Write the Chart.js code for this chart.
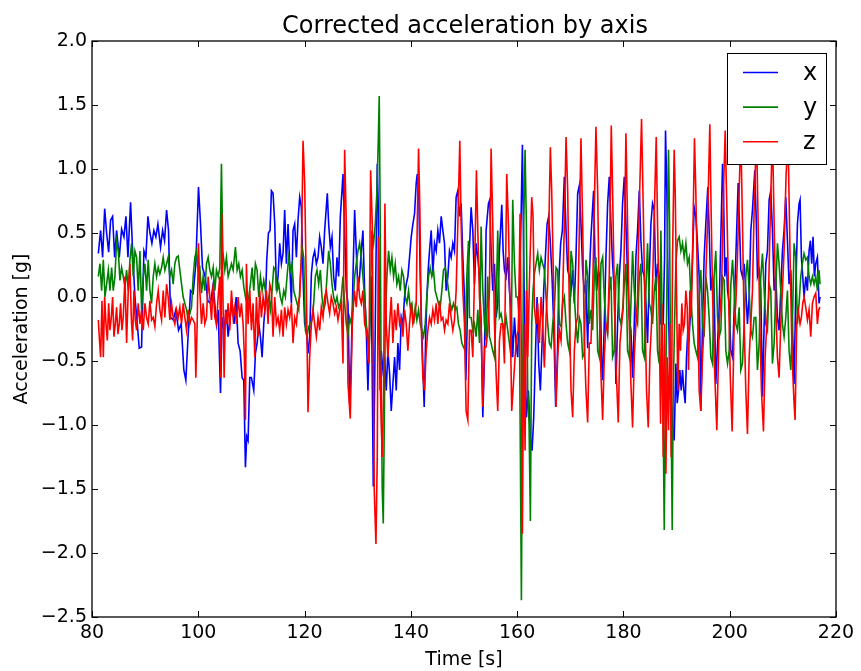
<!DOCTYPE html>
<html>
<head>
<meta charset="utf-8">
<title>Corrected acceleration by axis</title>
<script src="https://cdn.jsdelivr.net/npm/chart.js@4.4.1/dist/chart.umd.min.js"></script>
<style>
    html, body { margin: 0; padding: 0; background: #fff; }
    #wrap { width: 861px; height: 671px; }
</style>
</head>
<body>
<div id="wrap"><canvas id="accChart" width="861" height="671"></canvas></div>
<script>
// Trục tung / trục hoành
const xTickValues = [80, 100, 120, 140, 160, 180, 200, 220];
const yTickValues = [-2.5, -2.0, -1.5, -1.0, -0.5, 0.0, 0.5, 1.0, 1.5, 2.0];
const seriesNames = ['x', 'y', 'z'];

// Gia tốc trục x (s, g)
const timeX = [
    81.19,81.62,82.00,82.38,82.75,83.13,83.50,83.88,84.26,84.63,
    85.13,85.57,86.01,86.39,86.76,87.26,87.64,88.08,88.52,88.89,
    89.33,89.77,90.14,90.52,90.90,91.27,91.65,92.02,92.40,92.90,
    93.28,93.65,94.03,94.40,94.78,95.28,95.78,96.28,96.78,97.28,
    97.66,98.04,98.54,99.04,99.54,100.04,100.42,100.79,101.29,101.79,
    102.30,102.80,103.42,103.74,104.18,104.49,104.86,105.24,105.62,105.99,
    106.37,106.74,107.12,107.49,107.87,108.25,108.56,108.87,109.12,109.37,
    109.69,110.00,110.44,110.75,111.07,111.38,111.69,112.01,112.32,112.63,
    112.88,113.20,113.51,113.76,114.07,114.39,114.70,115.01,115.32,115.64,
    115.95,116.26,116.58,116.89,117.20,117.52,117.83,118.14,118.46,118.77,
    119.08,119.40,119.71,120.02,120.34,120.65,120.96,121.28,121.59,121.90,
    122.22,122.53,122.84,123.15,123.47,123.78,124.09,124.28,124.53,124.85,
    125.16,125.47,125.79,126.10,126.41,126.73,127.04,127.23,127.54,127.85,
    128.17,128.48,128.79,129.11,129.42,129.73,130.05,130.36,130.67,130.98,
    131.30,131.61,131.92,132.24,132.55,132.93,133.18,133.37,133.68,133.87,
    134.05,134.24,134.43,134.74,135.06,135.37,135.68,136.00,136.31,136.62,
    136.94,137.25,137.56,137.88,138.19,138.50,138.81,139.13,139.44,139.75,
    140.07,140.38,140.69,141.01,141.20,141.51,141.76,142.01,142.26,142.51,
    142.76,143.01,143.26,143.51,143.83,144.14,144.45,144.77,145.08,145.39,
    145.71,146.02,146.33,146.64,146.96,147.27,147.58,147.90,148.21,148.52,
    148.84,149.15,149.46,149.78,150.09,150.35,150.60,150.84,151.09,151.34,
    151.66,151.97,152.28,152.60,152.91,153.22,153.54,153.85,154.16,154.60,
    154.85,155.10,155.41,155.73,156.04,156.35,156.67,157.11,157.36,157.61,
    157.92,158.23,158.55,158.86,159.17,159.49,159.80,160.11,160.43,160.74,
    160.99,161.24,161.49,161.74,162.12,162.49,162.81,163.12,163.43,163.75,
    164.06,164.37,164.69,165.00,165.31,165.63,165.94,166.25,166.56,166.88,
    167.25,167.57,167.88,168.19,168.51,168.88,169.20,169.51,169.82,170.14,
    170.45,170.76,171.07,171.39,171.70,172.01,172.33,172.64,172.95,173.27,
    173.58,173.89,174.21,174.39,174.64,174.96,175.27,175.58,175.90,176.09,
    176.40,176.71,177.03,177.34,177.65,177.96,178.28,178.59,178.90,179.22,
    179.53,179.84,180.16,180.47,180.78,181.10,181.41,181.72,182.04,182.35,
    182.66,182.98,183.29,183.60,183.92,184.23,184.54,184.86,185.17,185.48,
    185.80,186.11,186.42,186.74,187.05,187.49,187.74,187.92,188.17,188.42,
    188.67,188.93,189.24,189.55,189.87,190.12,190.37,190.62,190.87,191.12,
    191.37,191.62,191.87,192.12,192.37,192.69,193.00,193.31,193.62,193.94,
    194.25,194.56,194.88,195.19,195.50,195.88,196.13,196.44,196.76,197.07,
    197.38,198.02,198.33,198.65,198.83,199.08,199.34,199.59,199.90,200.21,
    200.53,200.84,201.15,201.59,201.84,202.09,202.40,202.72,203.03,203.34,
    203.66,203.97,204.28,204.72,204.97,205.22,205.54,205.85,206.16,206.48,
    206.79,207.10,207.42,207.73,208.04,208.36,208.67,208.98,209.29,209.61,
    209.92,210.23,210.55,210.86,211.17,211.49,211.80,212.11,212.43,212.74,
    213.05,213.24,213.49,213.74,214.00,214.31,214.62,214.93,215.18,215.43,
    215.68,215.93,216.19,216.50,216.81,217.00
];
const accX = [
    0.34,0.52,0.31,0.69,0.50,0.35,0.60,0.63,0.31,0.52,
    0.31,0.53,0.47,0.63,0.31,0.74,0.36,0.00,-0.21,-0.40,
    -0.39,0.36,0.31,0.63,0.50,0.42,0.52,0.47,0.57,0.39,
    0.52,0.44,0.68,0.52,-0.16,-0.18,-0.10,-0.26,-0.21,-0.57,
    -0.65,-0.34,0.05,0.03,0.26,0.86,0.57,0.23,0.16,-0.03,
    -0.05,0.10,-0.21,-0.10,-0.75,-0.16,-0.26,-0.10,-0.31,-0.16,
    -0.05,-0.21,0.00,-0.36,-0.42,-0.63,-0.65,-1.33,-1.09,-1.12,
    -0.63,-0.63,-0.73,-0.44,-0.36,-0.21,-0.31,-0.47,-0.21,-0.05,
    0.29,0.50,0.52,0.83,0.81,0.57,0.05,0.16,0.42,0.26,
    0.34,0.68,0.26,0.57,0.26,-0.05,0.52,0.57,0.31,0.60,
    0.78,0.70,0.16,-0.21,-0.26,-0.44,-0.31,0.18,0.31,0.36,
    0.26,0.31,0.47,0.39,0.26,0.52,0.70,0.81,0.57,0.39,
    0.47,0.16,0.05,0.31,0.16,0.63,0.83,0.96,0.52,0.05,
    -0.05,-0.83,-0.47,0.16,0.68,0.36,0.05,0.16,0.36,0.52,
    0.05,-0.26,-0.73,-0.26,0.16,-1.48,-0.73,0.05,1.04,0.70,
    0.05,-0.73,-0.42,-0.57,-0.47,-0.73,-0.42,-0.60,-0.89,-0.68,
    -0.47,-0.73,-0.36,-0.57,-0.16,-0.21,0.00,0.10,0.16,0.31,
    0.47,0.57,0.65,0.89,0.96,0.76,0.16,-0.21,-0.55,-0.86,
    -0.36,0.00,0.21,0.36,0.52,0.18,0.42,0.36,0.52,0.42,
    0.63,0.52,0.42,0.05,0.16,0.36,0.31,0.42,0.36,0.78,
    0.83,0.63,0.73,0.31,0.00,-0.65,-0.20,0.26,0.44,0.70,
    0.52,0.10,0.42,0.31,0.16,-0.21,-0.94,-0.47,0.52,0.73,
    0.76,0.36,0.05,0.26,-0.16,-0.05,0.36,0.72,0.36,0.21,
    0.16,0.31,0.05,-0.10,-0.47,-0.16,-0.36,-0.47,0.05,0.63,
    1.19,0.31,-0.47,-0.94,-0.73,-1.09,-1.20,-0.94,-0.47,0.00,
    -0.52,-0.73,-0.36,0.05,0.31,0.57,0.63,0.42,0.16,-0.21,
    -0.86,-0.47,0.16,0.42,0.52,0.94,0.52,0.21,0.16,0.05,
    0.21,-0.05,0.31,0.81,0.87,0.57,0.21,0.05,0.10,-0.40,
    0.16,0.47,0.70,0.83,0.31,0.05,0.21,0.16,-0.52,-0.65,
    -0.21,0.31,0.73,0.94,0.57,0.26,0.05,-0.68,-0.21,0.16,
    0.36,0.73,0.94,0.57,0.16,-0.16,-0.26,-0.63,-0.21,0.31,
    0.52,0.83,0.44,0.21,0.16,-0.05,-0.36,0.16,0.57,0.73,
    0.68,0.05,0.26,0.16,-0.21,-0.21,0.31,1.30,0.83,0.05,
    -0.47,-0.73,-0.99,-1.12,-0.52,-0.83,-0.73,-0.57,-0.73,-0.57,
    -0.73,-0.83,-0.47,-0.26,-0.31,-0.05,0.31,0.70,0.63,0.42,
    0.16,-0.89,-0.21,0.31,0.57,0.86,0.52,0.05,0.16,0.05,
    -0.68,-0.08,0.47,1.04,0.83,0.16,0.31,0.05,-0.05,-0.42,
    -0.47,-0.10,0.31,0.89,0.57,0.21,0.16,0.26,0.05,-0.21,
    0.00,0.52,0.68,0.99,0.63,0.16,0.21,0.05,-0.78,-0.21,
    0.26,0.36,0.76,0.83,0.52,0.05,0.16,-0.16,-0.26,0.05,
    0.36,0.52,0.78,0.44,0.10,0.21,-0.21,-0.68,0.05,0.57,
    0.73,0.76,0.31,0.16,0.00,0.16,0.05,0.36,0.44,0.26,
    0.47,0.16,0.26,0.31,-0.05,0.00
];

// Gia tốc trục y
const timeY = [
    81.19,81.50,81.81,82.13,82.44,82.75,83.07,83.38,83.69,84.00,
    84.32,84.63,84.94,85.26,85.57,85.88,86.20,86.51,86.82,87.14,
    87.45,87.76,88.08,88.39,88.70,89.02,89.33,89.64,89.96,90.27,
    90.58,90.90,91.21,91.52,91.83,92.15,92.46,92.77,93.09,93.40,
    93.71,94.03,94.34,94.65,94.97,95.28,95.59,95.91,96.22,96.53,
    96.85,97.16,97.47,97.79,98.10,98.41,98.73,99.04,99.35,99.67,
    99.98,100.29,100.61,100.92,101.23,101.55,101.86,102.17,102.49,102.80,
    103.11,103.42,103.74,104.05,104.36,104.61,104.99,105.30,105.62,105.93,
    106.24,106.56,106.99,107.31,107.62,107.93,108.25,108.56,108.87,109.19,
    109.50,109.81,110.13,110.44,110.75,111.07,111.38,111.69,112.01,112.32,
    112.63,112.94,113.26,113.57,113.88,114.20,114.51,114.82,115.14,115.45,
    115.76,116.08,116.39,116.70,117.02,117.33,117.64,117.96,118.27,118.58,
    118.90,119.21,119.52,119.83,120.15,120.46,120.78,121.09,121.40,121.71,
    122.03,122.34,122.65,122.97,123.28,123.59,123.91,124.22,124.53,124.85,
    125.16,125.47,125.79,126.10,126.41,126.73,126.91,127.23,127.54,127.85,
    128.17,128.48,128.79,129.11,129.42,129.73,130.05,130.36,130.67,130.98,
    131.30,131.61,131.92,132.17,132.43,132.68,132.99,133.30,133.62,133.87,
    134.05,134.24,134.43,134.62,134.81,135.00,135.18,135.49,135.81,136.12,
    136.43,136.75,137.06,137.37,137.69,138.00,138.31,138.63,138.94,139.25,
    139.57,139.88,140.19,140.51,140.82,141.13,141.45,141.76,142.07,142.39,
    142.70,143.01,143.33,143.64,143.95,144.26,144.58,144.89,145.20,145.52,
    145.83,146.14,146.46,146.77,147.08,147.40,147.71,148.02,148.34,148.65,
    148.96,149.28,149.59,149.90,150.22,150.53,150.84,151.03,151.34,151.66,
    151.97,152.28,152.60,152.91,153.22,153.54,153.85,154.16,154.47,154.79,
    155.10,155.41,155.73,156.04,156.35,156.67,156.98,157.29,157.61,157.92,
    158.23,158.55,158.86,159.17,159.49,159.80,160.11,160.43,160.61,160.80,
    160.99,161.24,161.49,161.74,161.99,162.24,162.49,162.74,162.99,163.24,
    163.56,163.87,164.18,164.50,164.81,165.12,165.44,165.75,166.06,166.38,
    166.69,167.00,167.32,167.63,167.94,168.26,168.57,168.88,169.20,169.51,
    169.82,170.14,170.45,170.76,171.07,171.39,171.70,172.01,172.33,172.64,
    172.95,173.27,173.58,173.89,174.21,174.52,174.83,175.15,175.46,175.77,
    176.09,176.40,176.71,177.03,177.34,177.65,177.96,178.28,178.59,178.90,
    179.22,179.53,179.84,180.16,180.47,180.78,181.10,181.41,181.72,182.04,
    182.35,182.66,182.98,183.29,183.60,183.92,184.23,184.54,184.86,185.17,
    185.48,185.80,186.11,186.42,186.74,187.05,187.30,187.49,187.68,187.86,
    188.11,188.36,188.49,188.68,188.86,189.05,189.18,189.37,189.62,189.87,
    190.18,190.49,190.81,191.12,191.43,191.75,192.06,192.37,192.69,193.00,
    193.31,193.62,193.94,194.25,194.56,194.88,195.19,195.50,195.82,196.13,
    196.44,196.76,197.07,197.38,197.71,198.02,198.33,198.65,198.96,199.27,
    199.59,199.90,200.21,200.53,200.84,201.15,201.46,201.78,202.09,202.40,
    202.72,203.03,203.34,203.66,203.97,204.28,204.60,204.91,205.22,205.54,
    205.85,206.16,206.48,206.79,207.10,207.42,207.73,208.04,208.36,208.67,
    208.98,209.29,209.61,209.92,210.23,210.55,210.86,211.17,211.49,211.80,
    212.11,212.43,212.74,213.05,213.37,213.68,213.99,214.31,214.62,214.93,
    215.25,215.56,215.87,216.19,216.50,216.81,217.00
];
const accY = [
    0.16,0.26,0.05,0.29,0.00,0.10,0.21,0.05,0.23,0.05,
    0.16,0.44,0.36,0.13,0.23,0.16,0.08,0.21,0.05,0.29,
    0.42,0.16,0.36,0.31,0.05,0.36,-0.10,0.16,0.26,0.05,
    0.29,0.05,-0.05,0.16,0.26,0.16,0.23,0.18,0.23,0.31,
    0.21,0.26,0.31,0.16,0.21,0.10,0.26,0.31,0.32,0.21,
    0.10,0.00,-0.05,-0.10,-0.18,-0.13,-0.08,0.16,0.31,0.36,
    0.21,0.23,0.03,0.16,0.05,0.26,0.31,0.21,0.16,0.23,
    0.05,0.21,0.16,0.23,1.04,0.36,0.21,0.31,0.16,0.21,
    0.26,0.21,0.39,0.21,0.26,0.16,0.21,0.08,0.00,-0.05,
    0.00,0.10,0.23,0.05,0.26,0.21,0.00,0.16,0.05,0.13,
    0.05,-0.05,0.00,-0.10,0.05,0.23,0.21,0.05,0.10,0.00,
    -0.05,0.05,0.00,0.16,0.31,0.21,0.26,0.05,0.00,-0.05,
    -0.10,0.16,0.39,0.31,-0.26,-0.31,-0.23,-0.21,-0.18,-0.05,
    0.16,0.21,0.10,0.21,0.00,-0.10,-0.05,0.16,0.36,0.26,
    0.10,0.00,-0.05,0.00,-0.08,-0.05,0.00,0.16,-0.05,-0.21,
    -0.29,-0.16,-0.21,-0.05,0.16,0.26,0.36,0.42,0.31,0.16,
    0.00,-0.21,-0.31,-0.42,0.05,0.52,0.42,0.57,0.83,1.22,
    1.57,0.57,-0.73,-1.51,-1.77,-0.99,-0.21,0.16,0.36,0.21,
    0.31,0.16,0.26,0.10,0.16,0.05,0.21,0.16,0.00,-0.05,
    0.05,-0.08,-0.05,-0.21,-0.08,-0.18,-0.10,-0.21,-0.26,-0.31,
    -0.21,0.00,0.16,0.23,0.16,0.21,0.05,0.00,-0.05,-0.08,
    0.05,0.21,0.23,0.16,0.05,-0.05,-0.10,-0.05,-0.10,-0.08,
    -0.21,-0.26,-0.36,-0.39,-0.42,0.16,0.44,-0.16,-0.16,-0.26,
    -0.21,-0.31,-0.10,-0.36,0.55,0.05,-0.21,-0.34,0.16,-0.31,
    -0.36,-0.42,-0.47,-0.08,0.52,-0.16,-0.13,-0.21,-0.26,-0.16,
    -0.26,-0.36,-0.47,0.76,0.26,0.00,0.00,-0.21,-1.25,-2.37,
    -0.99,0.57,1.15,0.57,-0.73,-0.99,-1.75,-0.21,0.05,0.18,
    0.26,0.34,0.21,0.31,0.26,0.21,0.00,-0.21,-0.36,-0.39,
    -0.21,-0.10,0.23,0.21,-0.21,-0.23,-0.05,0.00,-0.21,-0.36,
    -0.42,0.36,0.26,0.00,-0.21,-0.36,-0.16,-0.21,-0.47,-0.44,
    0.29,0.16,-0.21,-0.10,-0.26,0.16,0.31,-0.42,-0.47,0.26,
    0.31,0.00,-0.21,-0.29,0.05,0.16,-0.47,-0.42,0.16,0.26,
    -0.16,-0.21,-0.10,0.10,0.26,-0.42,-0.47,-0.05,0.36,0.05,
    -0.16,-0.21,0.16,0.26,-0.42,-0.47,0.05,0.42,-0.05,-0.10,
    -0.21,0.05,0.16,-0.42,-0.52,0.52,-0.21,-0.99,-1.82,-0.99,
    -0.21,0.83,1.15,0.57,-0.47,-1.25,-1.82,-0.73,-0.21,0.26,
    0.44,0.47,0.36,0.42,0.31,0.42,0.26,0.31,0.00,-0.21,
    -0.36,-0.42,-0.47,0.00,0.21,-0.21,-0.31,0.16,0.05,-0.16,
    -0.47,-0.52,0.16,0.36,-0.16,-0.31,-0.26,0.16,0.13,-0.42,
    -0.52,-0.42,0.10,0.29,0.05,-0.21,-0.26,-0.08,-0.57,-0.52,
    -0.21,0.16,0.29,0.05,-0.26,-0.31,-0.16,-0.16,-0.57,-0.36,
    0.16,0.34,0.05,-0.21,-0.26,0.10,0.05,-0.52,-0.36,0.05,
    0.42,0.26,0.05,-0.21,-0.31,-0.16,0.05,-0.42,-0.57,-0.21,
    0.42,0.31,-0.21,-0.05,0.16,0.26,0.34,0.29,0.31,0.16,
    0.10,0.16,0.10,0.16,0.05,0.21,0.10
];

// Gia tốc trục z
const timeZ = [
    81.19,81.37,81.62,81.88,82.13,82.38,82.63,82.88,83.13,83.38,
    83.63,83.88,84.13,84.38,84.63,84.88,85.13,85.38,85.63,85.88,
    86.20,86.51,86.82,87.14,87.39,87.64,87.89,88.14,88.39,88.70,
    89.02,89.33,89.64,89.96,90.27,90.58,90.90,91.21,91.52,91.83,
    92.15,92.46,92.77,93.09,93.40,93.71,94.03,94.34,94.65,94.97,
    95.28,95.59,95.91,96.22,96.53,96.85,97.16,97.47,97.79,98.10,
    98.41,98.73,99.04,99.35,99.54,99.79,100.04,100.29,100.61,100.92,
    101.23,101.55,101.86,102.17,102.49,102.80,103.11,103.42,103.74,104.05,
    104.24,104.43,104.61,104.86,105.11,105.36,105.62,105.93,106.24,106.56,
    106.87,107.18,107.49,107.81,108.12,108.43,108.68,108.87,109.06,109.37,
    109.69,110.00,110.31,110.63,110.94,111.25,111.57,111.88,112.19,112.51,
    112.82,113.13,113.45,113.76,114.07,114.39,114.70,115.01,115.32,115.64,
    115.95,116.26,116.58,116.89,117.20,117.52,117.83,118.14,118.46,118.77,
    119.08,119.40,119.71,120.02,120.34,120.65,120.96,121.28,121.59,121.90,
    122.22,122.53,122.84,123.15,123.47,123.78,124.09,124.41,124.72,125.03,
    125.35,125.66,125.97,126.29,126.60,126.91,127.23,127.54,127.85,128.17,
    128.60,128.98,129.36,129.73,130.05,130.36,130.67,130.98,131.30,131.61,
    131.92,132.11,132.43,132.74,132.93,133.11,133.43,133.68,133.87,134.12,
    134.37,134.62,134.87,135.12,135.37,135.68,136.00,136.31,136.62,136.94,
    137.25,137.56,137.88,138.19,138.50,138.81,139.13,139.44,139.75,140.07,
    140.38,140.69,141.01,141.20,141.45,141.70,141.95,142.26,142.57,142.89,
    143.20,143.51,143.83,144.14,144.45,144.77,145.08,145.39,145.71,146.02,
    146.33,146.64,146.96,147.27,147.58,147.90,148.21,148.52,148.84,149.21,
    149.46,149.78,150.09,150.40,150.72,151.03,151.34,151.66,151.97,152.34,
    152.60,152.91,153.22,153.54,153.85,154.16,154.47,154.79,155.10,155.41,
    155.73,156.04,156.35,156.67,156.98,157.29,157.61,158.04,158.36,158.67,
    158.98,159.30,159.61,159.92,160.24,160.55,160.74,160.99,161.24,161.49,
    161.74,161.99,162.30,162.74,162.99,163.24,163.56,163.87,164.18,164.50,
    164.81,165.12,165.44,165.75,166.00,166.25,166.50,166.75,167.00,167.32,
    167.63,167.94,168.26,168.57,168.88,169.20,169.51,169.82,170.14,170.45,
    170.76,171.07,171.39,171.70,172.01,172.33,172.64,172.95,173.27,173.58,
    173.89,174.21,174.52,174.83,175.15,175.46,175.77,176.09,176.40,176.71,
    177.03,177.34,177.71,177.96,178.28,178.59,179.03,179.34,179.66,179.97,
    180.28,180.47,180.78,181.10,181.41,181.72,182.04,182.35,182.66,182.98,
    183.41,183.73,184.04,184.35,184.67,184.98,185.29,185.61,185.92,186.17,
    186.42,186.74,186.99,187.24,187.49,187.74,187.99,188.24,188.49,188.74,
    188.99,189.24,189.55,189.74,189.99,190.24,190.49,190.74,190.99,191.24,
    191.49,191.75,192.00,192.25,192.50,192.75,193.00,193.37,193.62,193.94,
    194.25,194.56,194.88,195.19,195.50,195.82,196.26,196.44,196.76,197.07,
    197.57,198.02,198.46,198.83,199.15,199.46,199.77,200.09,200.46,200.84,
    201.15,201.46,201.78,202.09,202.40,202.72,203.03,203.34,203.66,203.97,
    204.28,204.60,205.04,205.35,205.66,205.97,206.35,206.66,206.98,207.29,
    207.60,208.04,208.36,208.67,208.98,209.29,209.61,209.92,210.23,210.61,
    210.99,211.36,211.74,212.11,212.30,212.61,212.86,213.24,213.49,213.74,
    214.00,214.31,214.62,214.93,215.25,215.56,215.87,216.19,216.50,216.75,
    217.00
];
const accZ = [
    -0.18,-0.31,-0.47,-0.03,-0.47,0.00,-0.21,-0.34,-0.05,-0.26,
    -0.16,0.00,-0.31,-0.21,-0.08,-0.29,-0.21,-0.05,-0.26,-0.16,
    0.16,-0.36,0.05,0.26,-0.16,-0.34,0.05,-0.18,-0.26,-0.05,
    -0.21,-0.10,-0.26,-0.05,-0.16,-0.21,-0.03,-0.18,-0.16,-0.23,
    -0.05,0.05,-0.10,-0.18,0.05,-0.16,0.10,0.00,-0.18,-0.05,
    -0.16,-0.21,-0.10,-0.16,-0.08,-0.21,-0.05,-0.16,-0.26,-0.10,
    -0.21,-0.16,-0.18,-0.21,-0.63,-0.21,0.42,0.05,-0.21,-0.05,
    -0.21,-0.16,0.16,0.00,-0.18,0.10,-0.16,-0.21,0.00,0.16,
    -0.63,0.65,0.10,-0.63,-0.10,-0.21,-0.05,-0.26,0.05,-0.16,
    -0.08,-0.21,0.00,-0.16,-0.05,-0.21,-0.47,-0.96,0.26,-0.21,
    0.05,-0.26,-0.05,-0.47,0.00,-0.31,0.05,-0.16,0.00,-0.10,
    0.05,-0.21,0.10,0.05,-0.31,0.00,-0.21,-0.16,-0.26,-0.10,
    -0.31,-0.08,-0.21,-0.10,-0.16,-0.05,-0.36,-0.16,-0.21,-0.05,
    0.00,0.31,1.22,0.89,0.05,-0.90,-0.47,-0.21,-0.10,-0.21,
    -0.31,-0.16,-0.26,-0.08,-0.16,0.00,0.05,-0.05,-0.13,0.00,
    -0.05,-0.13,-0.08,-0.18,-0.10,-0.05,-0.52,1.15,0.57,-0.68,
    -0.95,-0.21,0.05,-0.08,0.16,0.00,-0.05,0.05,-0.21,-0.26,
    -0.36,-0.52,0.99,0.57,-0.52,-1.51,-1.93,-1.25,0.47,-0.47,
    -0.89,-1.25,-0.73,0.73,-0.21,-0.47,-0.21,0.00,-0.36,-0.10,
    -0.26,-0.05,-0.21,-0.16,-0.31,-0.10,-0.21,-0.42,-0.21,-0.05,
    -0.21,-0.16,-0.05,0.57,1.16,0.68,-0.21,-0.63,-0.73,-0.42,
    -0.26,-0.16,-0.21,-0.10,-0.18,-0.05,-0.21,-0.03,-0.18,-0.16,
    -0.26,-0.18,-0.21,-0.05,-0.16,-0.26,-0.18,0.05,0.57,1.22,
    0.57,0.05,-0.21,-0.89,-0.96,-0.26,-0.26,-0.47,0.16,0.99,
    0.52,0.00,-0.21,-0.86,-0.39,-0.39,-0.26,0.05,1.16,0.57,
    -0.21,-0.60,-0.89,-0.34,-0.21,-0.21,-0.52,0.96,0.57,-0.08,
    -0.89,-0.68,-0.47,-0.31,-0.26,0.65,-0.21,-1.85,-0.21,-1.20,
    0.05,-0.47,0.10,0.78,0.63,-0.08,-0.21,-0.05,-0.36,0.00,
    -0.21,-0.55,-0.16,0.10,0.63,1.17,0.83,0.31,-0.21,-0.86,
    -0.47,-0.26,-0.34,0.00,0.57,1.25,0.83,-0.08,-0.73,-0.94,
    -0.42,-0.21,-0.16,0.52,1.24,0.57,-0.34,-0.73,-0.98,-0.36,
    -0.36,0.05,0.70,1.33,0.83,-0.08,-0.60,-0.96,-0.47,-0.21,
    -0.26,0.18,1.34,0.83,0.05,-0.52,-0.98,-0.36,-0.21,-0.08,
    0.70,1.28,0.57,-0.21,-0.68,-1.02,-0.47,-0.21,0.00,0.70,
    1.39,0.70,-0.08,-0.73,-1.02,-0.47,-0.21,0.31,0.83,1.25,
    0.57,-0.21,-0.99,-0.05,-1.25,-0.21,-1.38,-0.47,-1.04,-0.21,
    -1.25,0.31,1.15,0.83,0.05,-0.73,-0.21,-0.42,-0.05,-0.26,
    -0.21,0.05,-0.08,-0.57,0.05,-0.16,0.31,1.24,0.83,0.05,
    -0.73,-0.89,-0.47,-0.21,0.16,0.57,1.35,0.83,0.05,-0.47,
    -1.04,-0.21,0.05,0.83,1.30,0.70,0.05,-0.60,-1.05,-0.21,
    -0.05,0.31,0.83,1.30,0.57,-0.21,-0.73,-1.07,-0.47,-0.21,
    0.05,0.70,1.30,0.57,-0.21,-0.73,-1.05,-0.47,-0.21,0.00,
    0.57,1.30,0.57,-0.08,-0.47,-0.63,-0.21,0.05,0.36,0.96,
    1.22,0.31,-0.47,-0.83,-0.96,-0.21,-0.10,-0.21,-0.16,-0.05,
    0.00,-0.08,-0.18,-0.10,-0.31,-0.05,0.00,0.03,-0.21,-0.10,
    -0.08
];

const lineColors = ['#0000ff', '#008000', '#ff0000'];
const FONT = 'DejaVu Sans';

// Ghép mảng thời gian + giá trị thành điểm
function toPoints(times, values) {
    const n = Math.min(times.length, values.length);
    const pts = [];
    for (let i = 0; i < n; i++) {
        pts.push({ x: times[i], y: values[i] });
    }
    return pts;
}

function fmtY(v) {
    return v.toFixed(1).replace('-', '\u2212');
}

// Vẽ khung, vạch chia hướng vào trong, tiêu đề và chú thích
const frameAndLegend = {
    id: 'frameAndLegend',
    afterDatasetsDraw(chart) {
        const ctx = chart.ctx;
        const a = chart.chartArea;
        const xs = chart.scales.x;
        const ys = chart.scales.y;
        ctx.save();

        // vạch chia
        ctx.strokeStyle = '#000';
        ctx.lineWidth = 1;
        ctx.beginPath();
        xTickValues.forEach(function(v) {
            const px = Math.round(xs.getPixelForValue(v)) + 0.5;
            ctx.moveTo(px, a.bottom); ctx.lineTo(px, a.bottom - 6);
            ctx.moveTo(px, a.top); ctx.lineTo(px, a.top + 6);
        });
        yTickValues.forEach(function(v) {
            const py = Math.round(ys.getPixelForValue(v)) + 0.5;
            ctx.moveTo(a.left, py); ctx.lineTo(a.left + 6, py);
            ctx.moveTo(a.right, py); ctx.lineTo(a.right - 6, py);
        });
        ctx.stroke();

        // khung
        ctx.lineWidth = 1.3;
        ctx.strokeRect(a.left, a.top, a.right - a.left, a.bottom - a.top);

        // tiêu đề
        ctx.fillStyle = '#000';
        ctx.font = '24px "' + FONT + '"';
        ctx.textAlign = 'center';
        ctx.textBaseline = 'alphabetic';
        ctx.fillText('Corrected acceleration by axis', (a.left + a.right) / 2 + 1, 33);

        // chú thích
        const bx = 727, by = 53, bw = 99, bh = 111;
        ctx.fillStyle = '#fff';
        ctx.fillRect(bx, by, bw, bh);
        ctx.lineWidth = 1;
        ctx.strokeStyle = '#000';
        ctx.strokeRect(bx + 0.5, by + 0.5, bw, bh);
        ctx.textAlign = 'left';
        seriesNames.forEach(function(name, i) {
            const base = 80 + i * 34.6;
            ctx.strokeStyle = lineColors[i];
            ctx.lineWidth = 1.6;
            ctx.beginPath();
            ctx.moveTo(743, base - 7.5);
            ctx.lineTo(778, base - 7.5);
            ctx.stroke();
            ctx.fillStyle = '#000';
            ctx.fillText(name, 803, base);
        });
        ctx.restore();
    }
};

document.addEventListener('DOMContentLoaded', function() {
    const canvas = document.getElementById('accChart');
    const seriesTimes = [timeX, timeY, timeZ];
    const seriesValues = [accX, accY, accZ];

    const datasets = seriesNames.map(function(name, i) {
        return {
            label: name,
            data: toPoints(seriesTimes[i], seriesValues[i]),
            borderColor: lineColors[i],
            backgroundColor: lineColors[i],
            borderWidth: 1.6,
            pointRadius: 0,
            tension: 0,
            fill: false,
            order: 2 - i
        };
    });

    new Chart(canvas, {
        type: 'line',
        data: { datasets: datasets },
        options: {
            responsive: false,
            animation: false,
            devicePixelRatio: 1,
            layout: { padding: { top: 41, right: 25, left: 0, bottom: 0 } },
            plugins: {
                legend: { display: false },
                tooltip: { enabled: false },
                title: { display: false }
            },
            scales: {
                x: {
                    type: 'linear',
                    min: 80,
                    max: 220,
                    grid: { display: false, drawTicks: false },
                    border: { display: false },
                    afterBuildTicks: function(s) {
                        s.ticks = xTickValues.map(function(v) { return { value: v }; });
                    },
                    afterFit: function(s) { s.height = 54; },
                    ticks: {
                        color: '#000',
                        padding: 5,
                        maxRotation: 0,
                        autoSkip: false,
                        font: { family: FONT, size: 19 },
                        callback: function(v) { return String(v); }
                    },
                    title: {
                        display: true,
                        text: 'Time [s]',
                        color: '#000',
                        padding: { top: 0, bottom: 0 },
                        font: { family: FONT, size: 19, lineHeight: 1.1 }
                    }
                },
                y: {
                    type: 'linear',
                    min: -2.5,
                    max: 2.0,
                    grid: { display: false, drawTicks: false },
                    border: { display: false },
                    afterBuildTicks: function(s) {
                        s.ticks = yTickValues.map(function(v) { return { value: v }; });
                    },
                    afterFit: function(s) { s.width = 92; },
                    ticks: {
                        color: '#000',
                        padding: 5,
                        autoSkip: false,
                        font: { family: FONT, size: 19 },
                        callback: function(v) { return fmtY(v); }
                    },
                    title: {
                        display: true,
                        text: 'Acceleration [g]',
                        color: '#000',
                        padding: { top: 11, bottom: 0 },
                        font: { family: FONT, size: 19, lineHeight: 1.2 }
                    }
                }
            }
        },
        plugins: [frameAndLegend]
    });
});
</script>
</body>
</html>
